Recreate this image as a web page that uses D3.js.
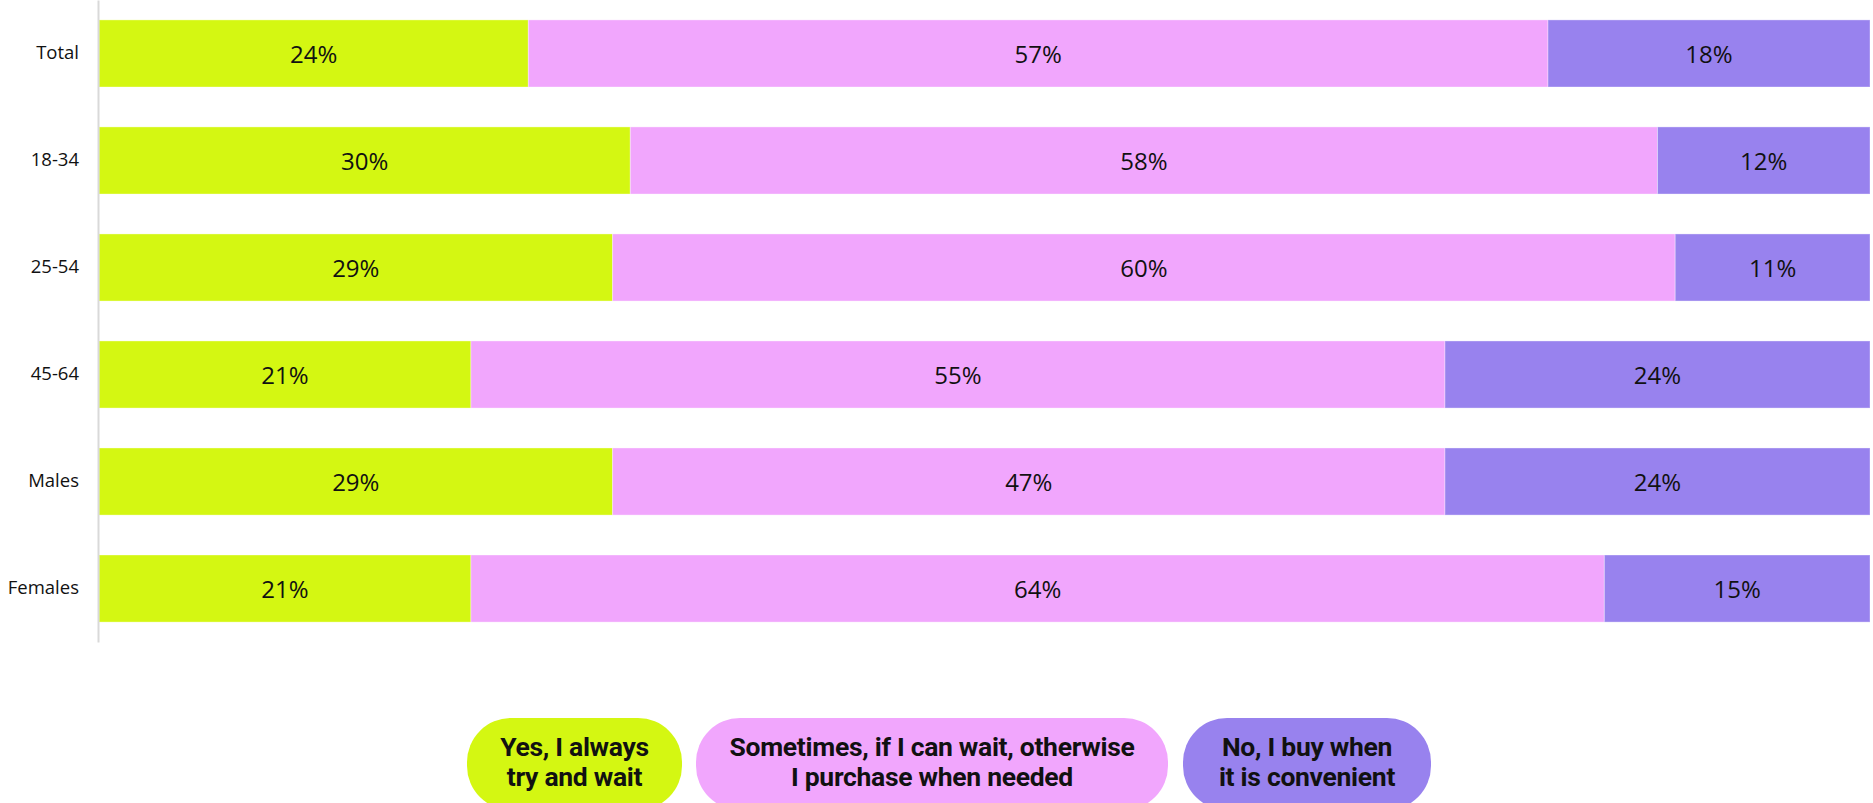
<!DOCTYPE html>
<html>
<head>
<meta charset="utf-8">
<script src="https://cdn.jsdelivr.net/npm/d3@7/dist/d3.min.js"></script>
<style>
  html, body { margin: 0; padding: 0; background: #ffffff; }
  svg { display: block; }
</style>
</head>
<body>
<svg id="chart" width="1873" height="803"></svg>
<script>
// Survey groups (rows, top to bottom)
const categories = ["Total", "18-34", "25-54", "45-64", "Males", "Females"];

// Answer options, in stacking order
const answers = ["always", "sometimes", "convenient"];
const answerLabels = [
  ["Yes, I always", "try and wait"],
  ["Sometimes, if I can wait, otherwise", "I purchase when needed"],
  ["No, I buy when", "it is convenient"]
];
const answerColors = ["#d4f712", "#f1a6fd", "#9882ee"];

// Share of respondents (%) per answer, one value per group
const alwaysWait     = [24, 30, 29, 21, 29, 21];
const sometimesWait  = [57, 58, 60, 55, 47, 64];
const buyConvenient  = [18, 12, 11, 24, 24, 15];

const rows = categories.map((c, i) => ({
  group: c,
  always: alwaysWait[i],
  sometimes: sometimesWait[i],
  convenient: buyConvenient[i]
}));

const svg = d3.select("#chart");
const margin = { left: 98, right: 3, top: 0 };
const plotBottom = 642;
const W = 1873;

const x = d3.scaleLinear().domain([0, 1]).range([margin.left + 1, W - margin.right]);
const y = d3.scaleBand()
  .domain(categories)
  .range([margin.top, plotBottom])
  .paddingInner(0.373)
  .paddingOuter(0.186);

// Each row fills the full width (shares of that row's total)
const stack = d3.stack().keys(answers).offset(d3.stackOffsetExpand);
const series = stack(rows);

const layers = svg.append("g")
  .selectAll("g")
  .data(series)
  .join("g")
  .attr("fill", (d, i) => answerColors[i]);

layers.selectAll("rect")
  .data(d => d)
  .join("rect")
  .attr("x", d => x(d[0]))
  .attr("y", d => y(d.data.group))
  .attr("width", d => x(d[1]) - x(d[0]))
  .attr("height", y.bandwidth())
  .attr("stroke", "#ffffff")
  .attr("stroke-opacity", 0.35)
  .attr("stroke-width", 1);

// Value labels centred in each segment
const labelFont = "'Open Sans', 'Liberation Sans', sans-serif";
series.forEach((s) => {
  svg.append("g")
    .selectAll("text")
    .data(s)
    .join("text")
    .attr("x", d => (x(d[0]) + x(d[1])) / 2)
    .attr("y", d => y(d.data.group) + y.bandwidth() / 2)
    .attr("text-anchor", "middle")
    .attr("dominant-baseline", "central")
    .attr("font-family", labelFont)
    .attr("font-size", 24)
    .attr("fill", "#111111")
    .text(d => d.data[s.key] + "%");
});

// Category axis
const yAxis = svg.append("g")
  .attr("transform", `translate(${margin.left},0)`)
  .call(d3.axisLeft(y).tickSize(0).tickSizeOuter(0).tickPadding(19));
yAxis.select(".domain").attr("stroke", "#d9d9d9").attr("stroke-width", 2);
yAxis.selectAll(".tick text")
  .attr("font-family", labelFont)
  .attr("font-size", 18.5)
  .attr("fill", "#111111");

// Legend pills
const pillX = [467, 696, 1183];
const pillW = [215, 472, 248];
const pillTop = 718, pillH = 92;
const legend = svg.append("g");
answers.forEach((a, i) => {
  const g = legend.append("g");
  g.append("rect")
    .attr("x", pillX[i])
    .attr("y", pillTop)
    .attr("width", pillW[i])
    .attr("height", pillH)
    .attr("rx", 44)
    .attr("fill", answerColors[i]);
  answerLabels[i].forEach((line, j) => {
    g.append("text")
      .attr("x", pillX[i] + pillW[i] / 2)
      .attr("y", 746 + j * 30)
      .attr("text-anchor", "middle")
      .attr("dominant-baseline", "central")
      .attr("font-family", "Roboto, 'Liberation Sans', sans-serif")
      .attr("font-weight", 700)
      .attr("font-size", 26.5)
      .attr("letter-spacing", -0.3)
      .attr("fill", "#111111")
      .text(line);
  });
});
</script>
</body>
</html>
